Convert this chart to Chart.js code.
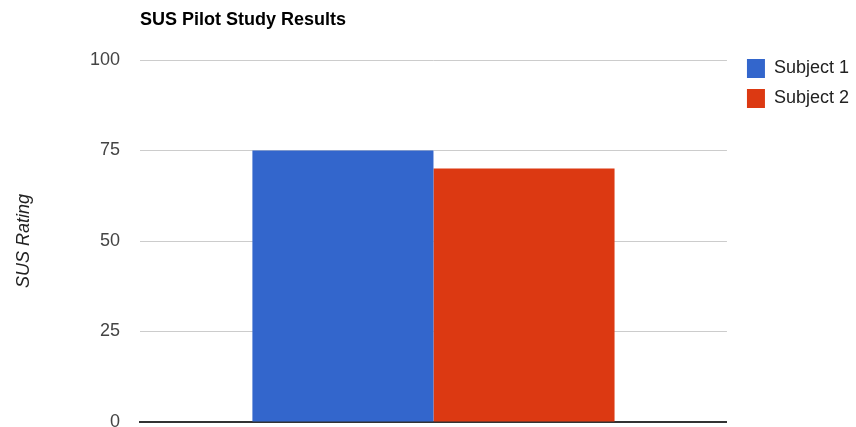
<!DOCTYPE html>
<html>
<head>
<meta charset="utf-8">
<script src="https://cdn.jsdelivr.net/npm/chart.js@4/dist/chart.umd.min.js"></script>
<style>
  html, body { margin: 0; padding: 0; background: #fff; }
  #wrap { width: 856px; height: 427px; }
</style>
</head>
<body>
<div id="wrap"><canvas id="myChart" width="856" height="427"></canvas></div>
<script>
// グラフのデータ
var categories = [''];
var seriesNames = ['Subject 1', 'Subject 2'];
var subject1 = [75];
var subject2 = [70];
var colors = ['#3366cc', '#dc3912'];
var yTicks = [0, 25, 50, 75, 100];

// タイトルをプロット領域の左端に描く
var titlePlugin = {
    id: 'leftTitle',
    afterDraw: function(chart) {
        var ctx = chart.ctx;
        ctx.save();
        ctx.font = 'bold 18px "Liberation Sans", Arial, sans-serif';
        ctx.fillStyle = '#000';
        ctx.textBaseline = 'middle';
        ctx.fillText('SUS Pilot Study Results', chart.chartArea.left, 20);
        ctx.restore();
    }
};

// 凡例とプロット領域の間に隙間を作り、凡例を少し上へ
var legendGap = {
    id: 'legendGap',
    beforeLayout: function(chart) {
        var lg = chart.legend;
        if (lg && !lg._gapWrapped) {
            var fit = lg.fit;
            lg.fit = function() {
                fit.call(this);
                this.width += 6;
            };
            lg._gapWrapped = true;
        }
    },
    afterLayout: function(chart) {
        var lg = chart.legend;
        if (lg) {
            lg.left += 9;
            lg.right += 9;
            lg.top -= 12;
            lg.bottom -= 12;
        }
    }
};

Chart.defaults.font.family = '"Liberation Sans", Arial, sans-serif';

var ctx = document.getElementById('myChart').getContext('2d');
var myChart = new Chart(ctx, {
    type: 'bar',
    data: {
        labels: categories,
        datasets: [{
            label: seriesNames[0],
            data: subject1,
            backgroundColor: colors[0],
            borderWidth: 0
        }, {
            label: seriesNames[1],
            data: subject2,
            backgroundColor: colors[1],
            borderWidth: 0
        }]
    },
    plugins: [titlePlugin, legendGap],
    options: {
        responsive: false,
        animation: false,
        layout: { padding: { top: 60, right: 0, bottom: 0, left: 0 } },
        datasets: { bar: { categoryPercentage: 0.617, barPercentage: 1 } },
        plugins: {
            legend: {
                position: 'right',
                align: 'start',
                labels: {
                    boxWidth: 18,
                    boxHeight: 19,
                    padding: 11,
                    color: '#222',
                    font: { size: 18 }
                }
            },
            tooltip: { enabled: false }
        },
        scales: {
            x: {
                grid: { display: false, drawTicks: false },
                border: { color: '#333', width: 2 },
                ticks: { display: false },
                afterFit: function(scale) { scale.height = 5; }
            },
            y: {
                min: 0,
                max: 100,
                afterBuildTicks: function(scale) {
                    scale.ticks = yTicks.map(function(v) { return { value: v }; });
                },
                grid: { color: '#ccc', drawTicks: false },
                border: { display: false },
                ticks: { color: '#444', font: { size: 18 }, padding: 20 },
                title: {
                    display: true,
                    text: 'SUS Rating',
                    color: '#222',
                    font: { size: 18, style: 'italic' },
                    padding: { top: 13, bottom: 0 }
                },
                afterFit: function(scale) {
                    scale.width = 140;
                    scale.paddingTop = 0;
                    scale.paddingBottom = 0;
                }
            }
        }
    }
});
</script>
</body>
</html>
